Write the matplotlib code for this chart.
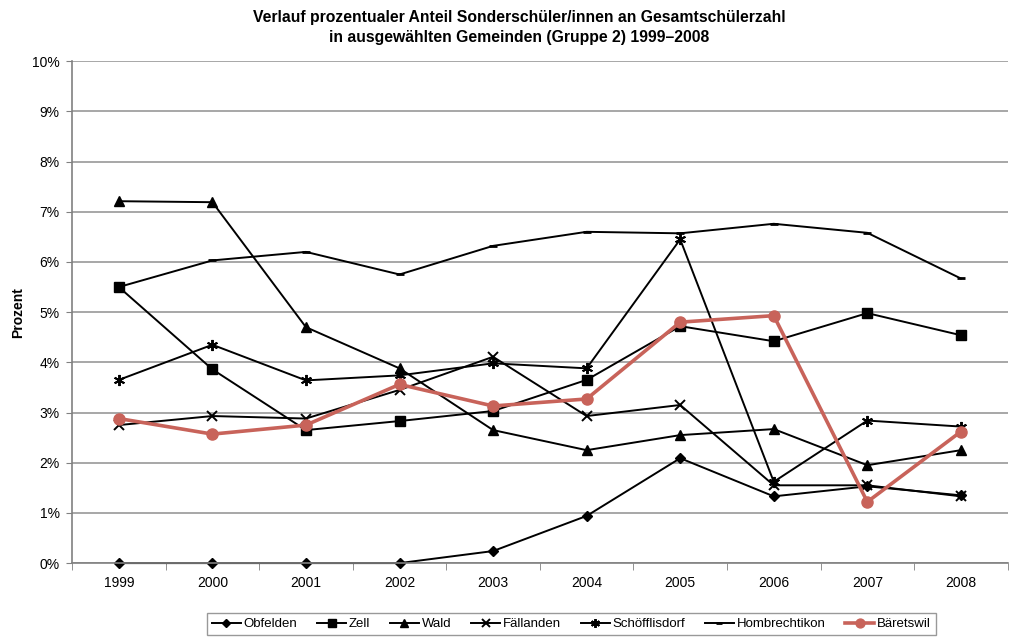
import numpy as np
import matplotlib.pyplot as plt
from matplotlib.ticker import FixedLocator

plt.rcParams['font.family'] = ['Liberation Sans', 'DejaVu Sans']

years = ['1999', '2000', '2001', '2002', '2003', '2004', '2005', '2006', '2007', '2008']

obfelden = [0.0, 0.0, 0.0, 0.0, 0.24, 0.94, 2.09, 1.33, 1.53, 1.35]
zell = [5.50, 3.86, 2.65, 2.83, 3.03, 3.65, 4.72, 4.42, 4.98, 4.54]
wald = [7.21, 7.19, 4.70, 3.88, 2.65, 2.25, 2.55, 2.67, 1.95, 2.25]
faellanden = [2.75, 2.93, 2.88, 3.45, 4.11, 2.93, 3.15, 1.55, 1.55, 1.33]
schoefflisdorf = [3.65, 4.35, 3.64, 3.74, 3.98, 3.88, 6.45, 1.62, 2.84, 2.72]
hombrechtikon = [5.50, 6.03, 6.20, 5.75, 6.32, 6.60, 6.57, 6.76, 6.58, 5.67]
baeretswil = [2.88, 2.57, 2.75, 3.56, 3.13, 3.27, 4.80, 4.93, 1.22, 2.62]

x = np.arange(len(years))

fig = plt.figure(figsize=(10.35, 6.37), dpi=100)
ax = fig.add_axes([0.0696, 0.116, 0.904, 0.788])

ax.yaxis.grid(True, color='#a0a0a0', linewidth=1.3)
ax.set_axisbelow(True)

k = dict(color='black', linewidth=1.4, clip_on=False)
ax.plot(x, obfelden, marker='D', markersize=5, label='Obfelden', **k)
ax.plot(x, zell, marker='s', markersize=7, label='Zell', **k)
ax.plot(x, wald, marker='^', markersize=7, label='Wald', **k)
ax.plot(x, faellanden, marker='x', markersize=7, markeredgewidth=1.4, label='Fällanden', **k)
ax.plot(x, schoefflisdorf, marker=(6, 2, 0), markersize=8, markeredgewidth=1.4, label='Schöfflisdorf', **k)
ax.plot(x, hombrechtikon, marker='_', markersize=6, markeredgewidth=2, label='Hombrechtikon', **k)
ax.plot(x, baeretswil, marker='o', markersize=8, color='#c8635a', linewidth=2.6, label='Bäretswil',
        clip_on=False)

ax.set_xlim(-0.5, len(years) - 0.5)
ax.set_ylim(0, 10)
ax.set_yticks(np.arange(0, 11, 1))
ax.set_yticklabels([f'{v}%' for v in range(11)])
ax.set_xticks(x)
ax.set_xticklabels(years)
ax.xaxis.set_minor_locator(FixedLocator(np.arange(-0.5, len(years), 1)))
ax.tick_params(axis='x', which='major', length=0, pad=9, labelsize=10)
ax.tick_params(axis='x', which='minor', length=5, color='#808080', direction='out')
ax.tick_params(axis='y', length=4, color='#808080', labelsize=10, pad=5)

for s in ['top', 'right']:
    ax.spines[s].set_visible(False)
for s in ['left', 'bottom']:
    ax.spines[s].set_color('#808080')
    ax.spines[s].set_linewidth(1.2)

ax.set_ylabel('Prozent', fontsize=10, fontweight='bold', labelpad=5)
fig.suptitle('Verlauf prozentualer Anteil Sonderschüler/innen an Gesamtschülerzahl\nin ausgewählten Gemeinden (Gruppe 2) 1999–2008',
             x=0.502, y=0.985, fontsize=11.3, fontweight='bold', linespacing=1.45)

leg = fig.legend(loc='lower center', bbox_to_anchor=(0.552, -0.008), ncol=7, frameon=True,
                 fontsize=9.5, handlelength=2.2, handletextpad=0.2, columnspacing=1.5,
                 borderpad=0.4, fancybox=False, edgecolor='#808080', markerscale=0.8)
leg.get_frame().set_linewidth(1.0)

fig.savefig('out.png', dpi=100)
